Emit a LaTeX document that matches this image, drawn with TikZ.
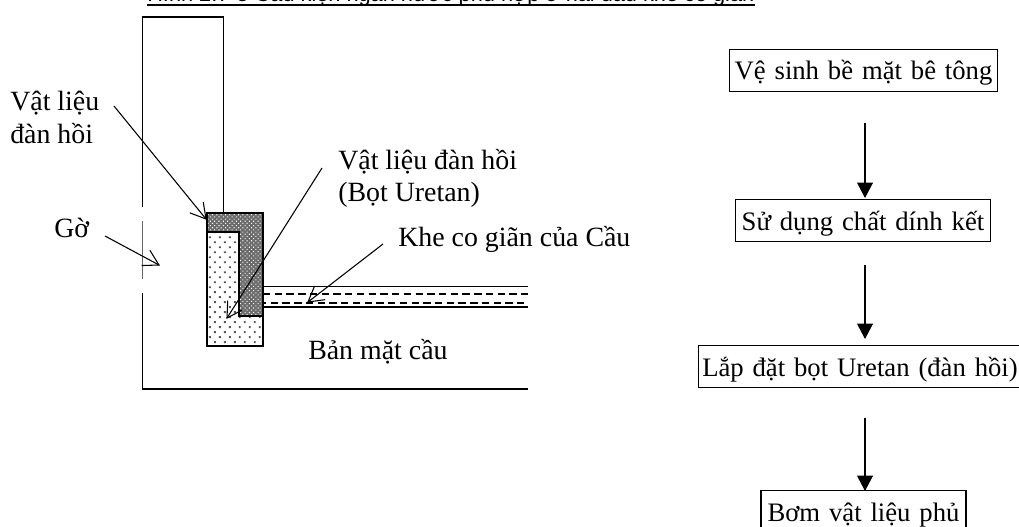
\documentclass[tikz,border=0pt]{standalone}
\usepackage{fontspec}
\setmainfont{Liberation Serif}
\newfontfamily\titlefont{Liberation Sans}
\usetikzlibrary{arrows.meta,patterns.meta,calc}
\tikzset{
  x=0.75pt,y=-0.75pt,
  lbl/.style={inner sep=0pt,font=\fontsize{20.9pt}{25pt}\selectfont,anchor=base west},
  flowbox/.style={draw,line width=1.1pt,inner sep=0pt,anchor=base,align=center,text height=23pt,text depth=8.5pt,font=\fontsize{20pt}{24pt}\selectfont},
  outline/.style={line width=1.15pt},
  flowarrow/.style={line width=1.1pt,-{Triangle[length=11.5pt,width=11.8pt]}},
  openarrow/.style={line width=0.8pt},
  seal/.style={draw,line width=1.4pt},
  dash line/.style={line width=1.1pt,dash pattern=on 5.5pt off 3.3pt}
}
\newcommand{\leaderline}[2]{\draw[openarrow] (#1) -- (#2);
  \draw[openarrow] ($(#2)!13pt!30:(#1)$) -- (#2) -- ($(#2)!13pt!-30:(#1)$);}
\begin{document}
\begin{tikzpicture}
\useasboundingbox (0,0) rectangle (1019,527);
\clip (0,0) rectangle (1019,527);
% title
\node[inner sep=0pt,anchor=base west,font=\titlefont\fontsize{16.3pt}{19pt}\selectfont] (title) at (147,2) {Hình 2.7-5 Cấu kiện ngăn nước phù hợp ở hai đầu khe co giãn};
\draw[line width=1.1pt] ([yshift=-2.1pt]title.base west) -- ([yshift=-2.1pt]title.base east);
% wall and deck
\draw[outline] (223.5,213) -- (223.5,17) -- (142.5,17) -- (142.5,207);
\draw[line width=0.6pt,black!60] (142.5,221) -- (142.5,279);
\draw[outline] (142.5,293) -- (142.5,389) -- (528,389);
% deck joint
\draw[outline] (263,286.5) -- (528,286.5);
\draw[outline] (263,307) -- (528,307);
\draw[dash line] (263,294) -- (528,294);
\draw[dash line,dash phase=3pt] (263,303) -- (528,303);
% seals
\fill[pattern={Dots[distance=5.3pt,radius=0.95pt,angle=45]},pattern color=black!65] (207,213) rectangle (263,346);
\fill[black!58] (207,213) -- (263,213) -- (263,316) -- (239,316) -- (239,232) -- (207,232) -- cycle;
\fill[pattern={Dots[distance=2.3pt,radius=0.55pt,angle=45]},pattern color=white] (207,213) -- (263,213) -- (263,316) -- (239,316) -- (239,232) -- (207,232) -- cycle;
\draw[seal] (207,213) rectangle (263,346);
\draw[seal] (207,232) -- (239,232) -- (239,316) -- (263,316);
% leader lines
\coordinate (t1) at (206,219);
\coordinate (t2) at (159,265);
\coordinate (t3) at (227,318);
\coordinate (t4) at (308,302);
\coordinate (s1) at (114,106);
\coordinate (s2) at (105,236);
\coordinate (s3) at (322,168);
\coordinate (s4) at (383,244);
\leaderline{s1}{t1}
\leaderline{s2}{t2}
\leaderline{s3}{t3}
\leaderline{s4}{t4}
% labels
\node[lbl] (l1) at (10,111) {Vật liệu};
\node[lbl] (l1b) at (10,144) {đàn hồi};
\node[lbl] (l2) at (54,238) {Gờ};
\node[lbl] (l3) at (338,170) {Vật liệu đàn hồi};
\node[lbl] (l3b) at (338,202) {(Bọt Uretan)};
\node[lbl] (l4) at (398,246) {Khe co giãn của Cầu};
\node[lbl] (l5) at (308,359) {Bản mặt cầu};
% flow
\node[flowbox,text width=201pt] (b1) at (863.5,80) {Vệ sinh bề mặt bê tông};
\node[flowbox,text width=191.5pt] (b2) at (863,230) {Sử dụng chất dính kết};
\node[flowbox,text width=242pt] (b3) at (860,376) {Lắp đặt bọt Uretan (đàn hồi)};
\node[flowbox,text width=153.5pt] (b4) at (863.5,521) {Bơm vật liệu phủ};
\coordinate (a1) at (865,123);
\coordinate (a2) at (865,198);
\coordinate (a3) at (865,265);
\coordinate (a4) at (865,339);
\coordinate (a5) at (865,418);
\coordinate (a6) at (865,491);
\draw[flowarrow] (a1) -- (a2);
\draw[flowarrow] (a3) -- (a4);
\draw[flowarrow] (a5) -- (a6);
\end{tikzpicture}
\end{document}
